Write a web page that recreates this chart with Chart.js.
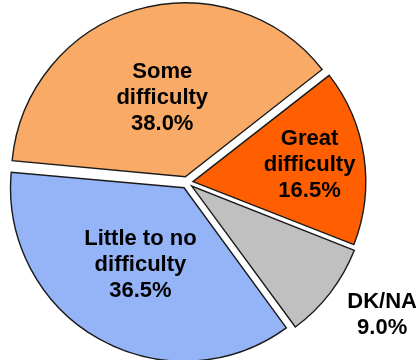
<!DOCTYPE html>
<html>
<head>
<meta charset="utf-8">
<script src="https://cdn.jsdelivr.net/npm/chart.js@4/dist/chart.umd.min.js"></script>
<style>
  html, body { margin: 0; padding: 0; background: #fff; }
  #wrap { width: 416px; height: 360px; }
</style>
</head>
<body>
<div id="wrap"><canvas id="c" width="416" height="360"></canvas></div>
<script>
// Survey answers, in drawing order (clockwise from the upper-right)
const categories = ['Great difficulty', 'DK/NA', 'Little to no difficulty', 'Some difficulty'];
const shares = [16.5, 9.0, 36.5, 38.0];
const labelLines = [['Great', 'difficulty'], ['DK/NA'], ['Little to no', 'difficulty'], ['Some', 'difficulty']];

const sliceColors = ['#FF5F00', '#C0C0C0', '#95B4F8', '#F9AA66'];
// label placement: fraction of the radius and a small turn (degrees) off the slice's middle angle
const labelRadius = [0.72, 1.37, 0.55, 0.51];
const labelTurn = [0, -3.5, 0, 0];

const sliceLabels = {
  id: 'sliceLabels',
  afterDatasetsDraw(chart) {
    const ctx = chart.ctx;
    const meta = chart.getDatasetMeta(0);
    ctx.save();
    ctx.font = 'bold 22px "Liberation Sans", Arial, sans-serif';
    ctx.fillStyle = '#000';
    ctx.textAlign = 'center';
    ctx.textBaseline = 'middle';
    const lineH = 26;
    meta.data.forEach((arc, i) => {
      const p = arc.getProps(['x', 'y', 'startAngle', 'endAngle', 'outerRadius'], true);
      const mid = (p.startAngle + p.endAngle) / 2 + labelTurn[i] * Math.PI / 180;
      const r = p.outerRadius * labelRadius[i];
      const cx = p.x + Math.cos(mid) * r;
      const cy = p.y + Math.sin(mid) * r;
      const lines = labelLines[i].concat([shares[i].toFixed(1) + '%']);
      const top = cy - (lines.length - 1) * lineH / 2;
      lines.forEach((t, k) => ctx.fillText(t, cx, top + k * lineH));
    });
    ctx.restore();
  }
};

new Chart(document.getElementById('c'), {
  type: 'pie',
  data: {
    labels: categories,
    datasets: [{
      data: shares,
      backgroundColor: sliceColors,
      borderColor: '#1a1a1a',
      borderWidth: 1.4,
      borderJoinStyle: 'miter',
      offset: 24,
      hoverOffset: 24
    }]
  },
  options: {
    responsive: false,
    animation: false,
    rotation: 52,
    radius: 172,
    layout: { padding: { left: 0, right: 42, top: 5, bottom: 0 } },
    plugins: {
      legend: { display: false },
      tooltip: { enabled: false }
    }
  },
  plugins: [sliceLabels]
});
</script>
</body>
</html>
